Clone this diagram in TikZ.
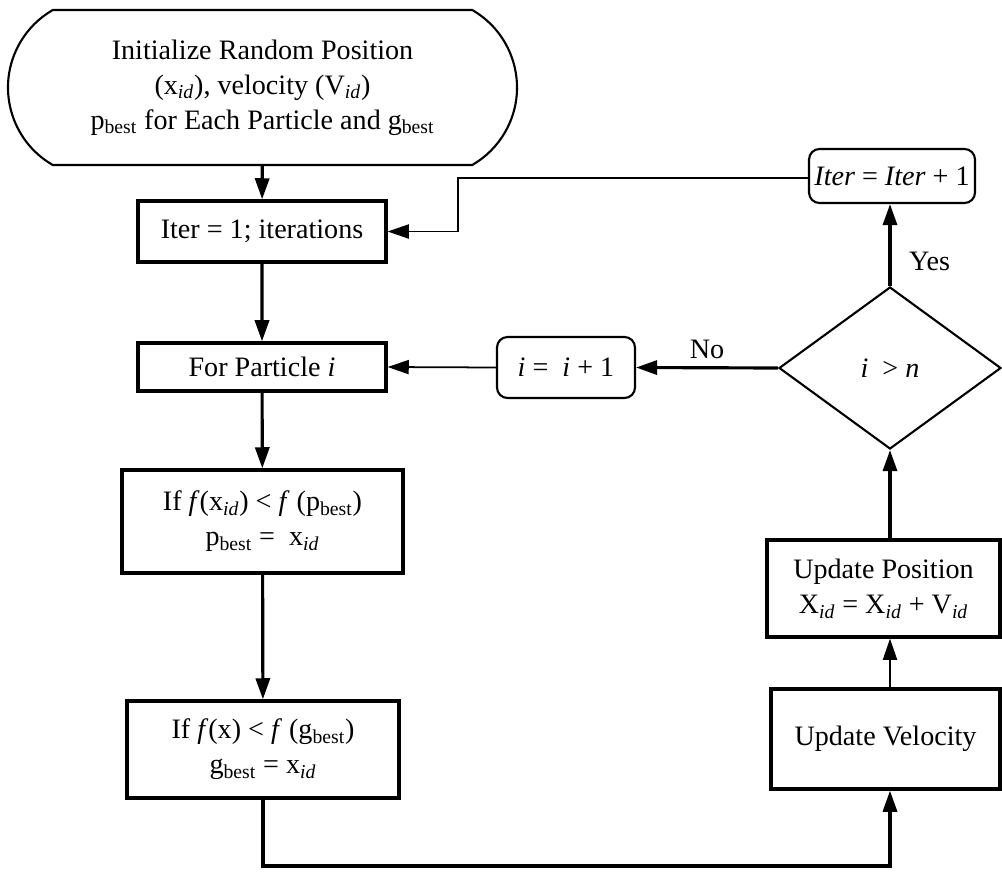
\documentclass[tikz,border=0pt]{standalone}
\usepackage{fontspec}
\setmainfont{Liberation Serif}
\usetikzlibrary{shapes.geometric,shapes.misc,arrows.meta}
\begin{document}
\begin{tikzpicture}[scale=0.2]
\tikzstyle{every node}+=[inner sep=0pt,align=center,font=\fontsize{16}{20}\selectfont]
\tikzstyle{box}=[draw,rectangle,line width=1.9pt]
\tikzstyle{rbox}=[draw,rectangle,rounded corners=6pt,line width=1.2pt]
\tikzstyle{flow}=[line width=1.8pt,-{Triangle[length=12pt,width=8pt]}]
\tikzstyle{back}=[line width=1pt,-{Triangle[length=12pt,width=8pt]}]
\useasboundingbox (0,0) rectangle (100.2,-87.1);
\node [draw,rounded rectangle,rounded rectangle arc length=120,line width=1.2pt,minimum width=10.18cm,minimum height=3.1cm] (init) at (26.25,-8.75) {Initialize Random Position\\(x\textsubscript{\textit{id}}), velocity (V\textsubscript{\textit{id}})\\p\textsubscript{best} for Each Particle and g\textsubscript{best}};
\node [box,minimum width=4.96cm,minimum height=1.22cm] (iter) at (26.2,-23.15) {Iter = 1; iterations};
\node [box,minimum width=4.96cm,minimum height=0.96cm] (part) at (26.2,-36.7) {For Particle \textit{i}};
\node [box,minimum width=5.62cm,minimum height=2.06cm] (pbest) at (26.25,-52.15) {If \textit{f}(x\textsubscript{\textit{id}}) < \textit{f} (p\textsubscript{best})\\p\textsubscript{best} = \ x\textsubscript{\textit{id}}};
\node [box,minimum width=5.44cm,minimum height=1.94cm] (gbest) at (26.3,-74.95) {If \textit{f}(x) < \textit{f} (g\textsubscript{best})\\g\textsubscript{best} = x\textsubscript{\textit{id}}};
\node [rbox,minimum width=3.32cm,minimum height=1.08cm] (iterinc) at (89.2,-17.6) {\textit{Iter} = \textit{Iter} + 1};
\node [draw,diamond,line width=1.2pt,minimum width=4.44cm,minimum height=3.24cm] (check) at (89,-36.8) {\textit{i} \ > \textit{n}};
\node [rbox,minimum width=2.76cm,minimum height=1.22cm] (inc) at (56.6,-36.75) {\textit{i} = \ \textit{i} + 1};
\node [box,minimum width=4.66cm,minimum height=1.94cm] (pos) at (88.35,-58.85) {Update Position\\X\textsubscript{\textit{id}} = X\textsubscript{\textit{id}} + V\textsubscript{\textit{id}}};
\node [box,minimum width=4.58cm,minimum height=2cm] (vel) at (88.55,-73.9) {Update Velocity};
\coordinate (turn) at (45.8,-17.8);
\coordinate (low) at (26.3,-86.6);
\draw [flow] (init) -- (iter);
\draw [flow] (iter) -- (part);
\draw [flow] (part) -- (pbest);
\draw [flow] (pbest) -- (gbest);
\draw [flow] (gbest.south) -- (low) -| (check.south |- vel.south);
\draw [back] (check.south |- vel.north) -- (check.south |- pos.south);
\draw [flow] (check.south |- pos.north) -- (check.south);
\draw [flow] (check.north) -- node [pos=0.3,right=0.35cm] (yes) {Yes} (check.north |- iterinc.south);
\draw [flow] (check.west) -- node [above=0.15cm] (no) {No} (inc.east);
\draw [back] (inc.west) -- (part.east);
\draw [back] (iterinc.west |- turn) -- (turn) |- (iter.east);
\end{tikzpicture}
\end{document}
